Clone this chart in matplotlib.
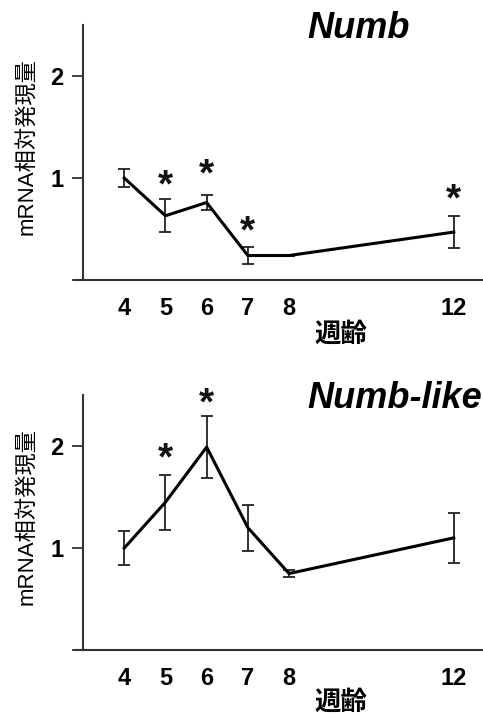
import numpy as np
import matplotlib
matplotlib.use('Agg')
import matplotlib.pyplot as plt
from matplotlib.transforms import offset_copy

plt.rcParams['font.family'] = ['Liberation Sans', 'Noto Sans CJK JP', 'DejaVu Sans']

weeks = [4, 5, 6, 7, 8, 12]

numb_mean = [1.00, 0.63, 0.76, 0.24, 0.24, 0.47]
numb_err  = [0.09, 0.16, 0.07, 0.085, 0.0, 0.155]
numb_star_weeks = [5, 6, 7, 12]
numb_star_y     = [0.99, 1.09, 0.53, 0.85]

like_mean = [1.00, 1.45, 1.99, 1.20, 0.75, 1.10]
like_err  = [0.165, 0.27, 0.30, 0.225, 0.03, 0.245]
like_star_weeks = [5, 6]
like_star_y     = [1.94, 2.48]

panels = [
    ('Numb', numb_mean, numb_err, numb_star_weeks, numb_star_y),
    ('Numb-like', like_mean, like_err, like_star_weeks, like_star_y),
]

fig = plt.figure(figsize=(4.83, 7.17), dpi=100)
boxes = [[0.172, 0.6095, 0.84, 0.3555], [0.172, 0.0934, 0.84, 0.3556]]
title_xy = [(307, 29), (307, 399)]
xlab_xy = [(341, 334), (341, 702)]
ylab_y = [147, 517]

for i, (name, mean, err, sw, sy) in enumerate(panels):
    ax = fig.add_axes(boxes[i])
    ax.errorbar(weeks, mean, yerr=err, color='black', lw=2.2, elinewidth=1.3,
                capsize=4, capthick=1.3, ecolor='#222222')
    # asterisk glyph sits high in its box, nudge it down
    star_tr = offset_copy(ax.transData, fig=fig, y=-7, units='dots')
    for w, y in zip(sw, sy):
        ax.text(w, y, '*', ha='center', va='center', fontsize=28,
                fontweight='bold', color='#111111', transform=star_tr)
    ax.set_xlim(3, 12.85)
    ax.set_ylim(0, 2.5)
    ax.set_yticks([0, 1, 2])
    ax.set_yticklabels(['', '1', '2'])
    ax.set_xticks(weeks)
    ax.set_xticklabels([str(w) for w in weeks])
    ax.tick_params(axis='y', length=8, width=1.3, color='#333333', pad=6,
                   labelsize=17)
    ax.tick_params(axis='x', length=0, pad=12, labelsize=17)
    for lab in ax.get_xticklabels() + ax.get_yticklabels():
        lab.set_fontweight('bold')
    for s in ['top', 'right']:
        ax.spines[s].set_visible(False)
    for s in ['left', 'bottom']:
        ax.spines[s].set_linewidth(1.5)
        ax.spines[s].set_color('#333333')
    ax.spines['bottom'].set_bounds(2.8, 12.85)
    ax.spines['bottom'].set_clip_on(False)

    fig.text(title_xy[i][0] / 483, 1 - title_xy[i][1] / 717, name,
             ha='left', va='center', fontsize=26, fontweight='bold',
             fontstyle='italic')
    fig.text(xlab_xy[i][0] / 483, 1 - xlab_xy[i][1] / 717, '週齢',
             ha='center', va='center', fontsize=19, fontweight='bold',
             family=['Noto Sans CJK JP'])
    fig.text(27 / 483, 1 - ylab_y[i] / 717, 'mRNA相対発現量',
             ha='center', va='center', rotation=90, fontsize=16,
             family=['Liberation Sans', 'Noto Sans CJK JP'])

plt.savefig('out.png', dpi=100)
